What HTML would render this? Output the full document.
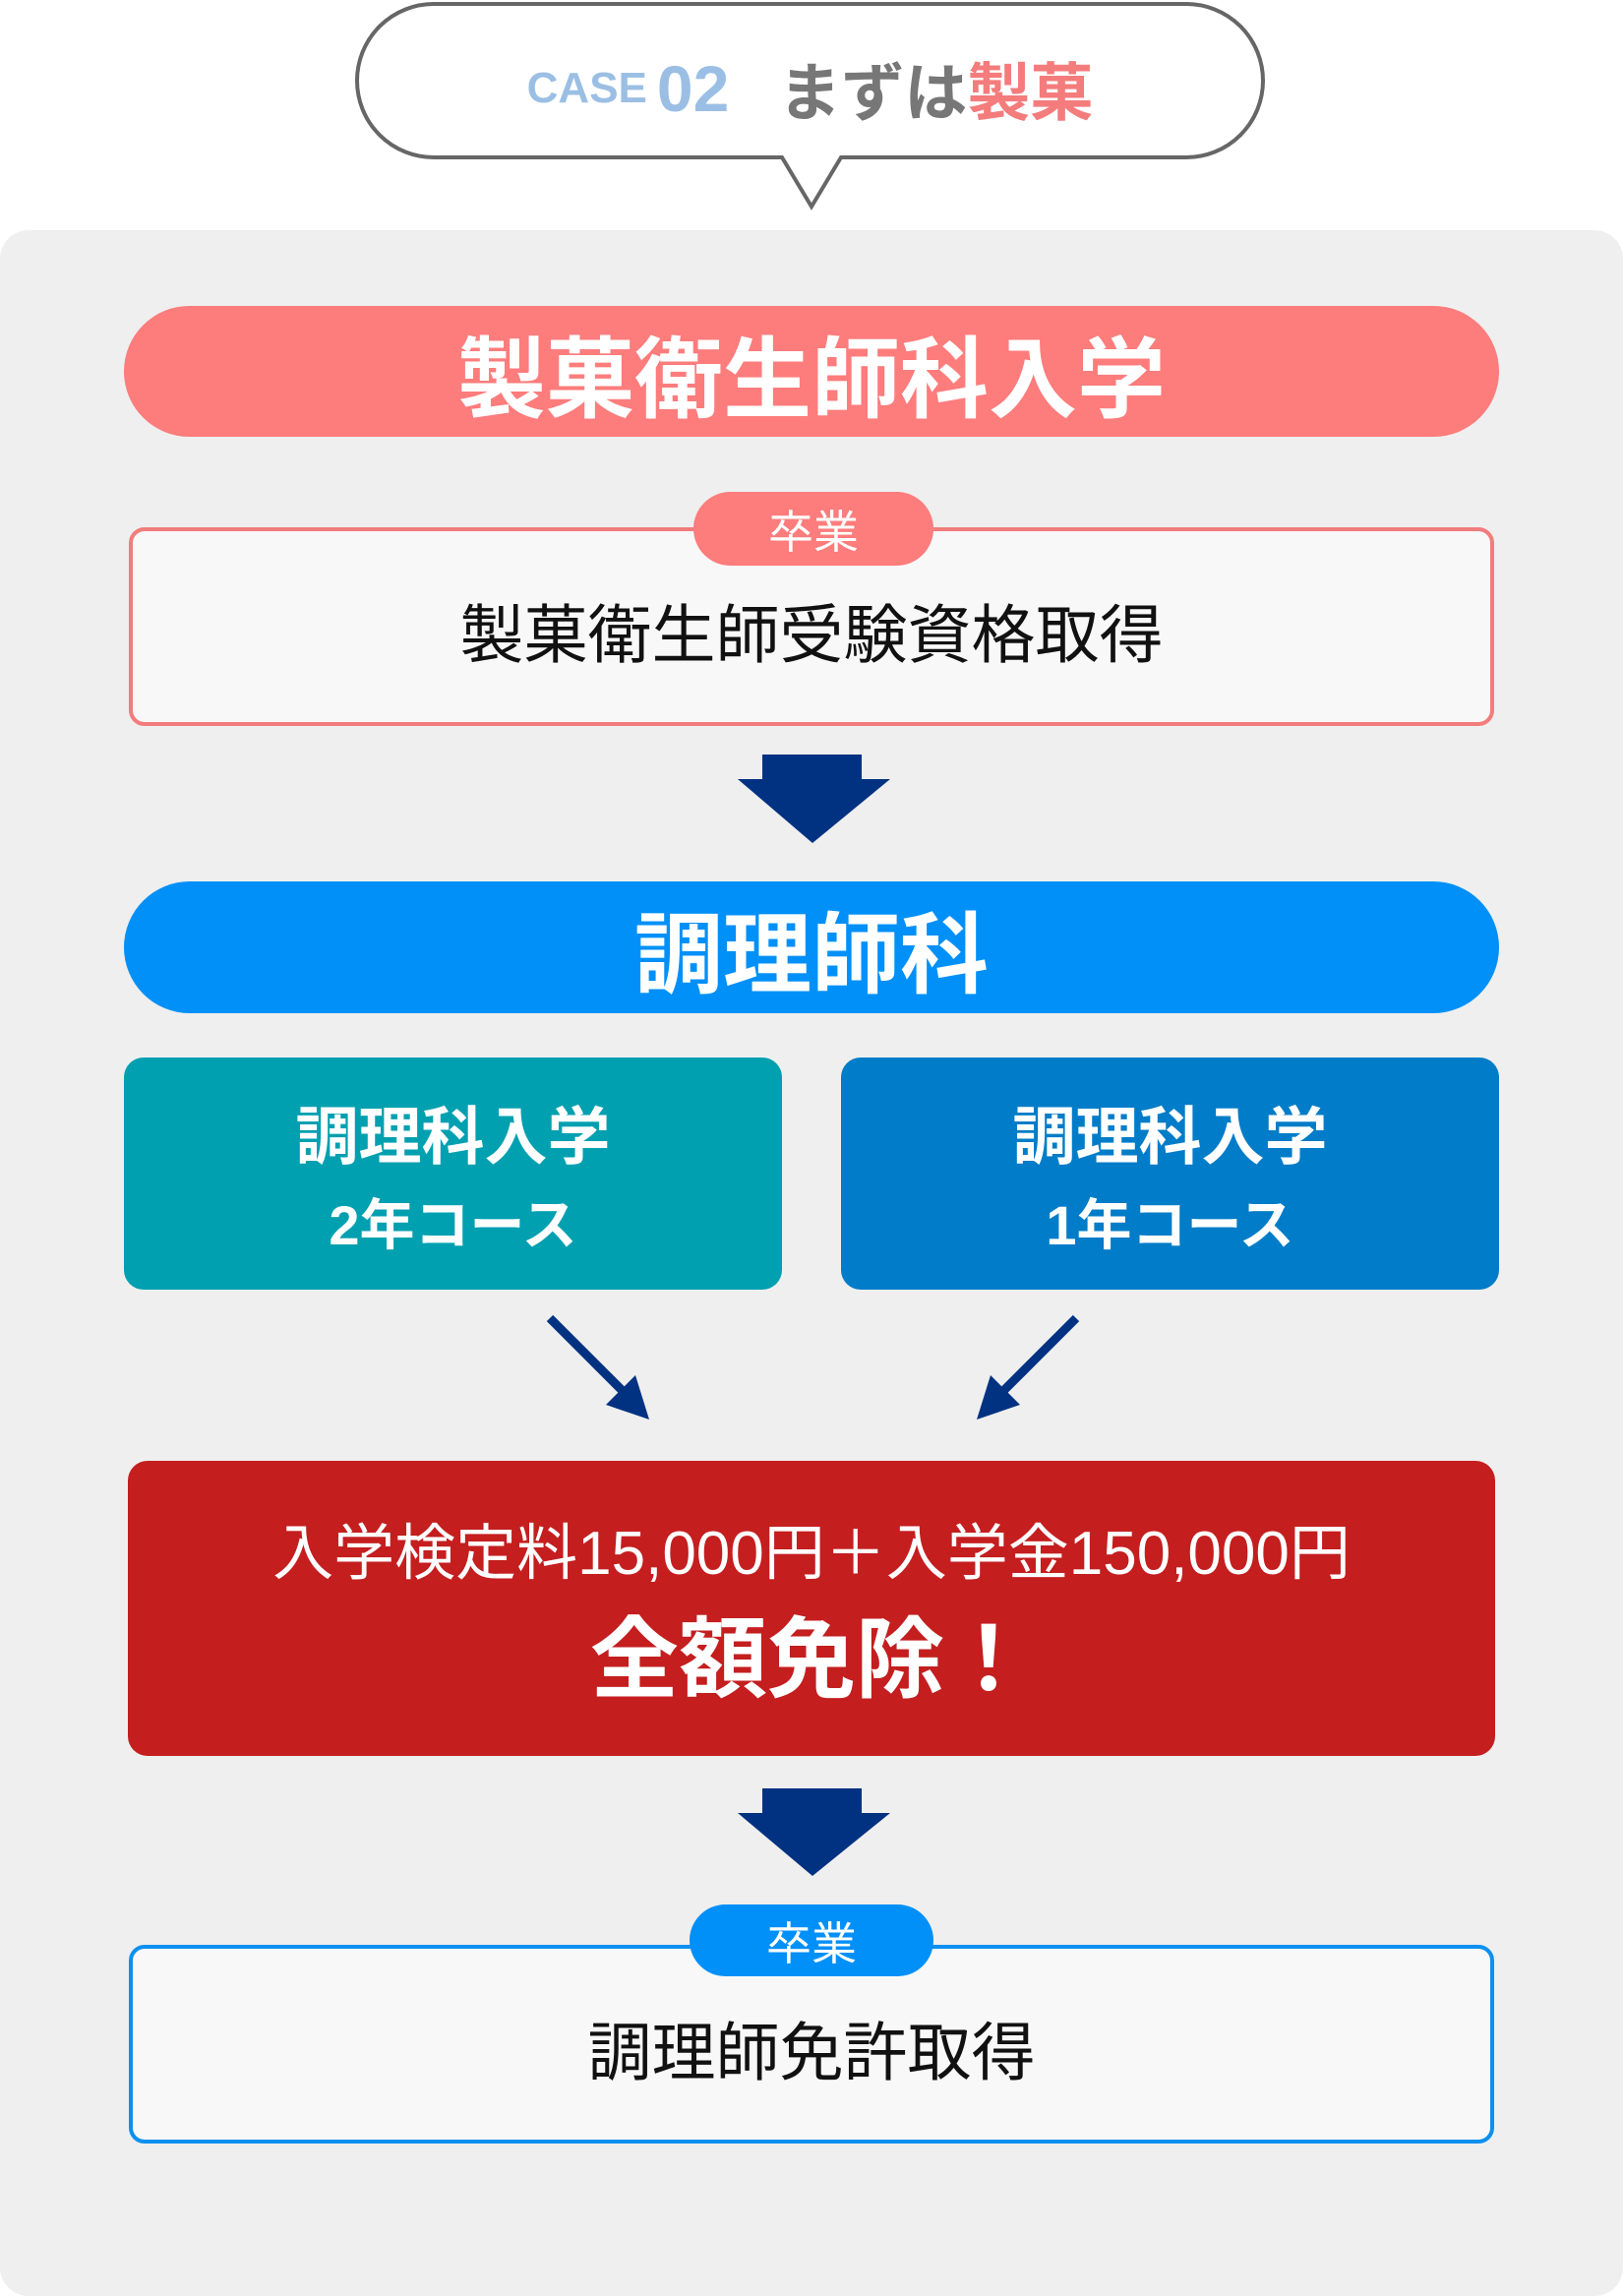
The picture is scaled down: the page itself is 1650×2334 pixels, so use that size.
<!DOCTYPE html>
<html><head><meta charset="utf-8"><style>
*{margin:0;padding:0;box-sizing:border-box}
body{width:1650px;height:2265px;background:#fff;position:relative;overflow:hidden;font-family:"Liberation Sans","Noto Sans CJK JP",sans-serif}
.a{position:absolute}
.c{display:flex;align-items:center;justify-content:center;text-align:center}
</style></head><body>
<div class="a" style="left:0;top:234px;width:1650px;height:2100px;background:#efefef;border-radius:29px"></div>
<svg class="a" style="left:0;top:0" width="1650" height="240">
<path d="M441,4 H1206 A78,78 0 0 1 1206,160 H855 L825,210 L795,160 H441 A78,78 0 0 1 441,4 Z" fill="#fff" stroke="#666" stroke-width="4"/>
</svg>
<div class="a c" style="left:361px;top:40px;width:925px;height:100px;font-weight:bold;white-space:nowrap">
<span style="color:#9bbfe4;font-size:44px;font-family:'Liberation Sans',sans-serif">CASE</span><span style="color:#9bbfe4;font-size:66px;margin-left:10px;font-family:'Liberation Sans',sans-serif">02</span><span style="color:#777;font-size:64px;margin-left:50px;font-family:'Noto Sans CJK JP',sans-serif">まずは</span><span style="color:#f47c7c;font-size:64px;font-family:'Noto Sans CJK JP',sans-serif">製菓</span>
</div>
<div class="a c" style="left:126px;top:311px;width:1398px;height:133px;background:#fd7c7c;border-radius:67px;color:#fff;font-size:90px;font-weight:bold">製菓衛生師科入学</div>
<div class="a" style="left:131px;top:536px;width:1388px;height:202px;background:#f8f8f8;border:4px solid #f37c7c;border-radius:16px"></div>
<div class="a c" style="left:705px;top:500px;width:244px;height:75px;background:#fd7c7c;border-radius:38px;color:#fff;font-size:46px">卒業</div>
<div class="a c" style="left:131px;top:600px;width:1388px;height:80px;font-size:65px;color:#111">製菓衛生師受験資格取得</div>
<svg class="a" style="left:0;top:0" width="1650" height="2265">
<path d="M775,767 H876 V792 H905 L826,857 L750,792 H775 Z" fill="#013282"/>
<path d="M775,1818 H876 V1843 H905 L826,1907 L750,1843 H775 Z" fill="#013282"/>
<line x1="559" y1="1340" x2="640" y2="1421" stroke="#013282" stroke-width="9"/>
<path d="M660,1443 L616,1428 L646,1398 Z" fill="#013282"/>
<line x1="1094" y1="1340" x2="1013" y2="1421" stroke="#013282" stroke-width="9"/>
<path d="M993,1443 L1037,1428 L1007,1398 Z" fill="#013282"/>
</svg>
<div class="a c" style="left:126px;top:896px;width:1398px;height:134px;background:#0090f8;border-radius:67px;color:#fff;font-size:90px;font-weight:bold">調理師科</div>
<div class="a" style="left:126px;top:1075px;width:669px;height:236px;background:#00a0b0;border-radius:20px;color:#fff;font-weight:bold;text-align:center">
<div style="font-size:64px;line-height:64px;margin-top:49px">調理科入学</div>
<div style="font-size:56px;line-height:56px;margin-top:30px">2年コース</div></div>
<div class="a" style="left:855px;top:1075px;width:669px;height:236px;background:#017cc8;border-radius:20px;color:#fff;font-weight:bold;text-align:center">
<div style="font-size:64px;line-height:64px;margin-top:49px">調理科入学</div>
<div style="font-size:56px;line-height:56px;margin-top:30px">1年コース</div></div>
<div class="a" style="left:130px;top:1485px;width:1390px;height:300px;background:#c41e1f;border-radius:20px;color:#fff;text-align:center">
<div style="font-size:62px;line-height:62px;margin-top:64px;white-space:nowrap">入学検定料15,000円＋入学金150,000円</div>
<div style="font-size:90px;line-height:90px;margin-top:32px;font-weight:bold">全額免除！</div></div>
<div class="a" style="left:131px;top:1977px;width:1388px;height:202px;background:#f8f8f8;border:4px solid #0c90f0;border-radius:16px"></div>
<div class="a c" style="left:701px;top:1936px;width:248px;height:73px;background:#0090f8;border-radius:37px;color:#fff;font-size:46px">卒業</div>
<div class="a c" style="left:131px;top:2041px;width:1388px;height:80px;font-size:65px;color:#111">調理師免許取得</div>
</body></html>
